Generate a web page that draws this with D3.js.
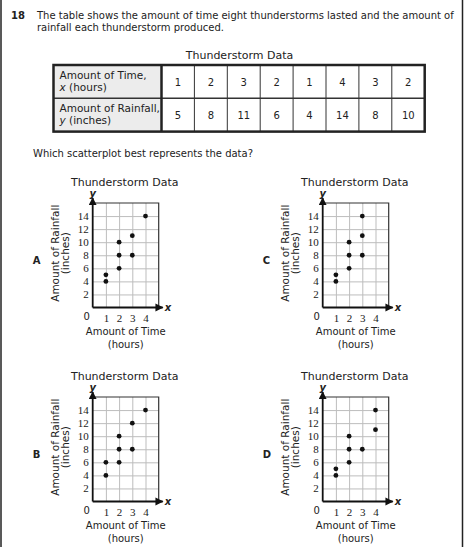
<!DOCTYPE html>
<html lang="en">
<head>
<meta charset="utf-8">
<title>Thunderstorm Data</title>
<script src="https://cdn.jsdelivr.net/npm/d3@7"></script>
<style>
  html, body { margin: 0; padding: 0; background: #fff; }
  svg { display: block; }
  text { font-family: "DejaVu Sans", Verdana, sans-serif; fill: #222; }
  .num { font-family: "Liberation Serif", "DejaVu Serif", serif; font-size: 11px; }
</style>
</head>
<body>
<script>
// table values
const hours = [1, 2, 3, 2, 1, 4, 3, 2];
const rainfall = [5, 8, 11, 6, 4, 14, 8, 10];

// the four answer choices, [time, rainfall]
const choiceA = [[1, 5], [1, 4], [2, 10], [2, 8], [2, 6], [3, 11], [3, 8], [4, 14]];
const choiceB = [[1, 6], [1, 4], [2, 10], [2, 8], [2, 6], [3, 12], [3, 8], [4, 14]];
const choiceC = [[1, 5], [1, 4], [2, 10], [2, 8], [2, 6], [3, 14], [3, 11], [3, 8]];
const choiceD = [[1, 5], [1, 4], [2, 10], [2, 8], [2, 6], [3, 8], [4, 14], [4, 11]];

const xTicks = [1, 2, 3, 4];
const yTicks = [2, 4, 6, 8, 10, 12, 14];

const W = 464, H = 547;
const svg = d3.select("body").append("svg")
  .attr("width", W).attr("height", H);

// frame
svg.append("line").attr("x1", 1).attr("x2", 1).attr("y1", 0).attr("y2", H)
  .attr("stroke", "#222").attr("stroke-width", 1.5);
svg.append("line").attr("x1", 462.5).attr("x2", 462.5).attr("y1", 0).attr("y2", H)
  .attr("stroke", "#222").attr("stroke-width", 1.5);

// question
svg.append("text").attr("x", 11).attr("y", 19)
  .attr("font-size", 10).attr("font-weight", "bold").text("18");
svg.append("text").attr("x", 37).attr("y", 19).attr("font-size", 10)
  .text("The table shows the amount of time eight thunderstorms lasted and the amount of");
svg.append("text").attr("x", 37).attr("y", 31).attr("font-size", 10)
  .text("rainfall each thunderstorm produced.");

svg.append("text").attr("x", 239.5).attr("y", 59).attr("font-size", 11)
  .attr("text-anchor", "middle").text("Thunderstorm Data");

// table
const tbl = { left: 53.5, top: 65, headW: 108, cellW: 32.9, rowH: 33.3 };
const tg = svg.append("g");
const cols = d3.range(hours.length);
const rows = [
  { vals: hours, l1: "Amount of Time,", v: "x", l2: " (hours)" },
  { vals: rainfall, l1: "Amount of Rainfall,", v: "y", l2: " (inches)" }
];
rows.forEach((r, i) => {
  const y0 = tbl.top + i * tbl.rowH;
  tg.append("rect").attr("x", tbl.left).attr("y", y0)
    .attr("width", tbl.headW).attr("height", tbl.rowH)
    .attr("fill", "#ececec");
  const t = tg.append("text").attr("font-size", 10.5);
  t.append("tspan").attr("x", tbl.left + 6).attr("y", y0 + 13.5).text(r.l1);
  const t2 = t.append("tspan").attr("x", tbl.left + 6).attr("y", y0 + 25.5);
  t2.append("tspan").attr("font-style", "italic").text(r.v);
  t2.append("tspan").text(r.l2);
  tg.selectAll(null).data(cols).enter().append("text")
    .attr("x", c => tbl.left + tbl.headW + (c + 0.5) * tbl.cellW)
    .attr("y", y0 + tbl.rowH / 2 + 4)
    .attr("text-anchor", "middle").attr("font-size", 10)
    .text(c => r.vals[c]);
});
tg.selectAll(null).data(d3.range(1, hours.length)).enter().append("line")
  .attr("x1", c => tbl.left + tbl.headW + c * tbl.cellW)
  .attr("x2", c => tbl.left + tbl.headW + c * tbl.cellW)
  .attr("y1", tbl.top).attr("y2", tbl.top + 2 * tbl.rowH)
  .attr("stroke", "#333").attr("stroke-width", 1);
tg.append("line").attr("x1", tbl.left).attr("x2", tbl.left + tbl.headW + hours.length * tbl.cellW)
  .attr("y1", tbl.top + tbl.rowH).attr("y2", tbl.top + tbl.rowH)
  .attr("stroke", "#333").attr("stroke-width", 1.5);
tg.append("line").attr("x1", tbl.left + tbl.headW).attr("x2", tbl.left + tbl.headW)
  .attr("y1", tbl.top).attr("y2", tbl.top + 2 * tbl.rowH)
  .attr("stroke", "#222").attr("stroke-width", 2.5);
tg.append("rect").attr("x", tbl.left).attr("y", tbl.top)
  .attr("width", tbl.headW + hours.length * tbl.cellW).attr("height", 2 * tbl.rowH)
  .attr("fill", "none").attr("stroke", "#222").attr("stroke-width", 2.5);

svg.append("text").attr("x", 33).attr("y", 157).attr("font-size", 10)
  .text("Which scatterplot best represents the data?");

// arrow head
svg.append("defs").append("marker")
  .attr("id", "arrow").attr("viewBox", "0 0 10 10")
  .attr("refX", 9).attr("refY", 5)
  .attr("markerWidth", 4.5).attr("markerHeight", 4.5)
  .attr("orient", "auto")
  .append("path").attr("d", "M0,0L10,5L0,10Z").attr("fill", "#111");

const pw = 66, ph = 104.5;
const x = d3.scaleLinear().domain([0, 5]).range([0, pw]);
const y = d3.scaleLinear().domain([0, 16]).range([ph, 0]);

function panel(px, py, data, letter) {
  const g = svg.append("g").attr("transform", `translate(${px},${py})`);

  g.append("text").attr("x", pw / 2 - 1).attr("y", -17).attr("font-size", 11)
    .attr("text-anchor", "middle").text("Thunderstorm Data");

  // grid
  g.append("g").attr("transform", `translate(0,${ph})`)
    .call(d3.axisBottom(x).tickValues(xTicks).tickSize(-ph).tickFormat(""))
    .call(a => a.select(".domain").remove())
    .call(a => a.selectAll("line").attr("stroke", "#bdbdbd"));
  g.append("g")
    .call(d3.axisLeft(y).tickValues(yTicks).tickSize(-pw).tickFormat(""))
    .call(a => a.select(".domain").remove())
    .call(a => a.selectAll("line").attr("stroke", "#bdbdbd"));

  g.append("path")
    .attr("d", `M0,0H${pw}V${ph}`)
    .attr("fill", "none").attr("stroke", "#333").attr("stroke-width", 1.2);

  // tick labels
  g.append("g").attr("transform", `translate(0,${ph})`)
    .call(d3.axisBottom(x).tickValues(xTicks).tickFormat(d3.format("d")).tickSize(0).tickPadding(7))
    .call(a => a.select(".domain").remove())
    .call(a => a.selectAll("text").attr("class", "num").attr("fill", "#222"));
  g.append("g")
    .call(d3.axisLeft(y).tickValues(yTicks).tickFormat(d3.format("d")).tickSize(0).tickPadding(4))
    .call(a => a.select(".domain").remove())
    .call(a => a.selectAll("text").attr("class", "num").attr("fill", "#222"));
  g.append("text").attr("x", -6).attr("y", ph + 12).attr("font-size", 10)
    .attr("text-anchor", "middle").text("0");

  // axes with arrows
  g.append("line").attr("x1", x(0)).attr("x2", x(0))
    .attr("y1", y(0)).attr("y2", -5)
    .attr("stroke", "#111").attr("stroke-width", 1.8).attr("marker-end", "url(#arrow)");
  g.append("line").attr("x1", x(0)).attr("x2", pw + 4)
    .attr("y1", y(0)).attr("y2", y(0))
    .attr("stroke", "#111").attr("stroke-width", 1.8).attr("marker-end", "url(#arrow)");
  g.append("text").attr("x", 0).attr("y", -6).attr("font-size", 10)
    .attr("font-weight", "bold").attr("font-style", "italic")
    .attr("text-anchor", "middle").text("y");
  g.append("text").attr("x", pw + 6).attr("y", ph + 3.5).attr("font-size", 10)
    .attr("font-weight", "bold").attr("font-style", "italic").text("x");

  // points
  g.selectAll("circle").data(data).enter().append("circle")
    .attr("cx", d => x(d[0])).attr("cy", d => y(d[1]))
    .attr("r", 2.4).attr("fill", "#111");

  // axis titles
  g.append("text").attr("x", pw / 2).attr("y", ph + 27).attr("font-size", 10)
    .attr("text-anchor", "middle").text("Amount of Time");
  g.append("text").attr("x", pw / 2).attr("y", ph + 40).attr("font-size", 10)
    .attr("text-anchor", "middle").text("(hours)");
  const yt = g.append("g").attr("transform", `translate(-34,${ph / 2 - 2}) rotate(-90)`);
  yt.append("text").attr("text-anchor", "middle").attr("font-size", 10.5).text("Amount of Rainfall");
  yt.append("text").attr("y", 10.5).attr("text-anchor", "middle").attr("font-size", 10.5).text("(inches)");

  g.append("text").attr("x", -60).attr("y", 61).attr("font-size", 10)
    .attr("font-weight", "bold").text(letter);
}

panel(92.7, 203, choiceA, "A");
panel(322.7, 203, choiceC, "C");
panel(92.7, 397, choiceB, "B");
panel(322.7, 397, choiceD, "D");
</script>
</body>
</html>
